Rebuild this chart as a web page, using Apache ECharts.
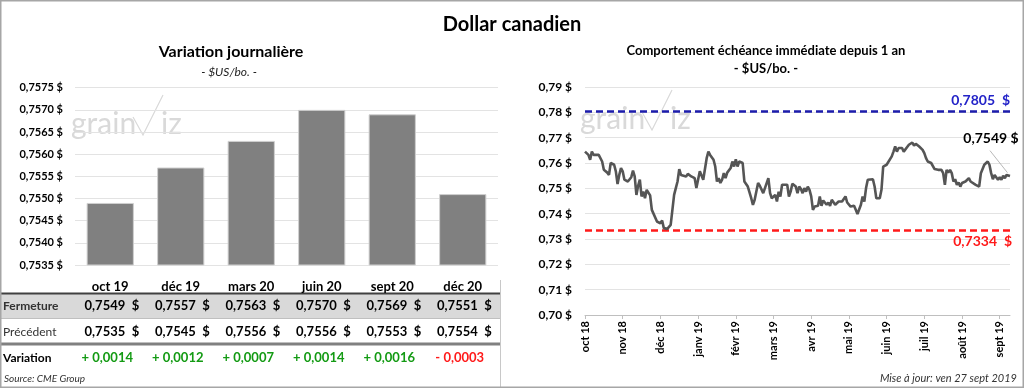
<!DOCTYPE html>
<html><head><meta charset="utf-8">
<script src="https://cdn.jsdelivr.net/npm/echarts/dist/echarts.min.js"></script>
<style>html,body{margin:0;padding:0;background:#fff}#c{width:1024px;height:388px}</style>
</head><body><div id="c"></div>
<script>
const FONT = 'Lato, "Open Sans", sans-serif';
const contracts = ['oct 19','déc 19','mars 20','juin 20','sept 20','déc 20'];
const fermeture = [0.7549,0.7557,0.7563,0.7570,0.7569,0.7551];
const precedent = [0.7535,0.7545,0.7556,0.7556,0.7553,0.7554];
const barAxisMin = 0.7535, barAxisMax = 0.7575, barAxisStep = 0.0005;
const monthLabels = ['oct 18','nov 18','déc 18','janv 19','févr 19','mars 19','avr 19','mai 19','juin 19','juil 19','août 19','sept 19'];
const daysPerLabel = 22;
const yearHigh = 0.7805, yearLow = 0.7334, lastClose = 0.7549;
const closeSeries = [
[0,0.7645],[2,0.7632],[3,0.7613],[4,0.7645],[5,0.7632],[6,0.7639],[8,0.7632],[9,0.7639],[10,0.7606],[11,0.7573],
[13,0.7562],[14,0.7553],[15,0.7600],[17,0.7593],[18,0.7567],[19,0.7517],[20,0.7553],[21,0.7580],[22,0.7567],[23,0.7534],
[24,0.7540],[25,0.7527],[27,0.7544],[28,0.7570],[29,0.7547],[30,0.7474],[31,0.7510],[32,0.7534],[33,0.7468],[34,0.7487],
[35,0.7461],[36,0.7494],[37,0.7487],[38,0.7472],[39,0.7415],[40,0.7419],[42,0.7369],[44,0.7362],[45,0.7373],[46,0.7343],
[47,0.7340],[48,0.7340],[50,0.7356],[51,0.7415],[52,0.7474],[53,0.7501],[54,0.7527],[55,0.7576],[56,0.7553],[57,0.7547],
[59,0.7547],[60,0.7557],[62,0.7547],[64,0.7540],[65,0.7501],[66,0.7494],[67,0.7567],[68,0.7560],[69,0.7534],[70,0.7540],
[71,0.7619],[72,0.7645],[73,0.7632],[75,0.7613],[76,0.7586],[77,0.7527],[78,0.7540],[79,0.7521],[80,0.7534],[81,0.7560],
[82,0.7540],[83,0.7562],[84,0.7567],[85,0.7580],[86,0.7606],[87,0.7586],[88,0.7615],[89,0.7586],[90,0.7606],[91,0.7613],
[92,0.7600],[93,0.7527],[94,0.7521],[95,0.7507],[97,0.7461],[98,0.7435],[99,0.7455],[100,0.7455],[101,0.7521],[102,0.7510],
[104,0.7481],[105,0.7501],[106,0.7501],[107,0.7540],[108,0.7481],[109,0.7461],[110,0.7461],[111,0.7474],[112,0.7448],[113,0.7487],
[114,0.7468],[115,0.7514],[116,0.7521],[118,0.7514],[119,0.7468],[120,0.7487],[121,0.7518],[122,0.7514],[123,0.7507],[124,0.7481],
[125,0.7507],[126,0.7497],[127,0.7481],[128,0.7501],[129,0.7487],[130,0.7507],[131,0.7494],[132,0.7468],[133,0.7415],[134,0.7428],
[135,0.7435],[136,0.7431],[137,0.7468],[138,0.7431],[139,0.7452],[140,0.7448],[141,0.7435],[142,0.7444],[143,0.7431],[144,0.7455],
[145,0.7448],[146,0.7435],[148,0.7448],[149,0.7441],[150,0.7448],[152,0.7468],[153,0.7444],[154,0.7448],[155,0.7428],[157,0.7431],
[158,0.7415],[159,0.7399],[160,0.7402],[161,0.7435],[162,0.7468],[163,0.7448],[164,0.7501],[165,0.7534],[166,0.7540],[168,0.7536],
[169,0.7507],[170,0.7461],[171,0.7461],[172,0.7461],[173,0.7494],[174,0.7586],[175,0.7580],[176,0.7593],[177,0.7596],[179,0.7626],
[180,0.7645],[181,0.7665],[182,0.7645],[183,0.7659],[184,0.7652],[185,0.7659],[186,0.7645],[187,0.7639],[188,0.7663],[189,0.7672],
[190,0.7676],[191,0.7681],[192,0.7668],[193,0.7676],[194,0.7672],[195,0.7665],[197,0.7652],[198,0.7639],[199,0.7619],[200,0.7606],
[201,0.7600],[202,0.7600],[203,0.7606],[204,0.7576],[205,0.7573],[206,0.7573],[207,0.7567],[208,0.7573],[209,0.7560],[210,0.7514],
[211,0.7573],[212,0.7562],[213,0.7573],[214,0.7560],[215,0.7527],[216,0.7536],[217,0.7514],[218,0.7523],[219,0.7507],[220,0.7521],
[221,0.7523],[222,0.7527],[223,0.7534],[224,0.7540],[225,0.7527],[226,0.7521],[228,0.7514],[229,0.7507],[230,0.7507],[231,0.7560],
[232,0.7567],[233,0.7593],[234,0.7600],[235,0.7606],[236,0.7593],[237,0.7560],[238,0.7536],[239,0.7553],[240,0.7560],[241,0.7534],
[242,0.7544],[243,0.7534],[244,0.7550],[245,0.7540],[246,0.7553],[247,0.7547],[248,0.7549]
];
const lastDay = 248;
const leaderFrom = [236.3, 0.7649];
const leaderTo = [246.5, 0.7562];

const fmt = (v, d) => v.toFixed(d).replace('.', ',');
const chart = echarts.init(document.getElementById('c'), null, {renderer: 'canvas'});

chart.setOption({
  animation: false,
  textStyle: {fontFamily: FONT},
  grid: [
    {left: 75, right: 526, top: 87.7, bottom: 123},
    {left: 585, right: 14, top: 87, bottom: 73}
  ],
  xAxis: [
    {type: 'category', gridIndex: 0, data: contracts,
     axisLine: {show: false}, axisTick: {show: false},
     axisLabel: {margin: 15, fontSize: 13, fontWeight: 'bold', color: '#000', fontFamily: FONT}},
    {type: 'value', gridIndex: 1, min: 0, max: lastDay, interval: daysPerLabel,
     splitLine: {show: false},
     axisLine: {show: true, lineStyle: {color: '#bfbfbf'}},
     axisTick: {show: true, length: 4, lineStyle: {color: '#bfbfbf'}},
     axisLabel: {rotate: 90, margin: 6, fontSize: 11, fontWeight: 'bold', color: '#000', fontFamily: FONT,
       showMaxLabel: false,
       formatter: v => { const i = Math.round(v / daysPerLabel); return (Math.abs(v - i*daysPerLabel) < 0.01 && i < monthLabels.length) ? monthLabels[i] : ''; }}}
  ],
  yAxis: [
    {type: 'value', gridIndex: 0, min: barAxisMin, max: barAxisMax, interval: barAxisStep,
     axisLine: {show: false}, axisTick: {show: false},
     splitLine: {lineStyle: {color: '#e3e3e3'}},
     axisLabel: {margin: 12, fontSize: 11, fontWeight: 'bold', color: '#000', fontFamily: FONT,
       formatter: v => fmt(v, 4) + ' $'}},
    {type: 'value', gridIndex: 1, min: 0.70, max: 0.79, interval: 0.01,
     axisLine: {show: false}, axisTick: {show: false},
     splitLine: {lineStyle: {color: '#e3e3e3'}},
     axisLabel: {margin: 13, fontSize: 12, fontWeight: 'bold', color: '#000', fontFamily: FONT,
       formatter: v => fmt(v, 2) + ' $'}}
  ],
  series: [
    {type: 'bar', xAxisIndex: 0, yAxisIndex: 0, data: fermeture, barCategoryGap: '33%',
     itemStyle: {color: '#808080', borderColor: '#d0d0d0', borderWidth: 1}},
    {type: 'line', xAxisIndex: 1, yAxisIndex: 1, data: closeSeries, showSymbol: false, symbol: 'none',
     lineStyle: {color: '#555555', width: 2.6}, z: 5,
     markLine: {silent: true, symbol: 'none', animation: false, precision: 4,
       data: [
         {yAxis: yearHigh, lineStyle: {color: '#1c1cac', width: 2.5, type: [7, 4]},
          label: {position: 'insideEndTop', distance: [0, 4], formatter: fmt(yearHigh, 4) + '  $', color: '#2323c8', fontSize: 14, fontWeight: 'bold', fontFamily: FONT}},
         {yAxis: yearLow, lineStyle: {color: '#ff1a1a', width: 2.5, type: [7, 4]},
          label: {position: 'insideEndBottom', distance: [-2, 4], formatter: fmt(yearLow, 4) + '  $', color: '#ff1a1a', fontSize: 14, fontWeight: 'bold', fontFamily: FONT}},
         [{coord: leaderFrom, lineStyle: {color: '#a6a6a6', width: 0.8, type: 'solid'}, label: {show: false}},
          {coord: leaderTo}]
       ]},
     markPoint: {silent: true, symbol: 'circle', symbolSize: 0,
       data: [{coord: [lastDay, lastClose],
         label: {show: true, formatter: fmt(lastClose, 4) + ' $', offset: [-19, -37], color: '#000', fontSize: 14, fontWeight: 'bold', fontFamily: FONT}}]}}
  ]
});

// table + titles
const g = [];
const txt = (x, y, text, o) => g.push({type: 'text', x, y, style: Object.assign({text, fill: '#000', font: '12px ' + FONT, textAlign: 'left', textVerticalAlign: 'middle'}, o || {})});
const line = (x1, y1, x2, y2, stroke, w) => g.push({type: 'line', shape: {x1, y1, x2, y2}, style: {stroke, lineWidth: w}});

g.push({type: 'rect', shape: {x: 0, y: 294, width: 500, height: 24}, style: {fill: '#d9d9d9'}, z: -1});
line(0, 293.5, 500, 293.5, '#404040', 2);
line(0, 318.5, 500, 318.5, '#bfbfbf', 1);
line(0, 344, 500, 344, '#808080', 3);
line(500.5, 280, 500.5, 388, '#c8c8c8', 1);

txt(512, 25, 'Dollar canadien', {font: 'bold 20px ' + FONT, textAlign: 'center'});
txt(231, 52, 'Variation journalière', {font: 'bold 16px ' + FONT, textAlign: 'center'});
txt(229, 72, '- $US/bo. -', {font: 'italic 12px ' + FONT, textAlign: 'center', fill: '#222'});
txt(766, 51, 'Comportement échéance immédiate depuis 1 an', {font: 'bold 13px ' + FONT, textAlign: 'center'});
txt(766, 69, '- $US/bo. -', {font: 'bold 13px ' + FONT, textAlign: 'center'});

txt(3, 306, 'Fermeture', {font: 'bold 12px ' + FONT, fill: '#333'});
txt(3, 332, 'Précédent', {font: '12px ' + FONT, fill: '#333'});
txt(3, 358, 'Variation', {font: 'bold 12px ' + FONT, fill: '#000'});
txt(4, 379, 'Source: CME Group', {font: 'italic 10px ' + FONT, fill: '#333'});
txt(1017, 378, 'Mise à jour: ven 27 sept 2019', {font: 'italic 11px ' + FONT, fill: '#333', textAlign: 'right'});

contracts.forEach((c, i) => {
  const cx = chart.convertToPixel({xAxisIndex: 0}, i);
  txt(cx + 15, 306, fmt(fermeture[i], 4), {font: 'bold 13px ' + FONT, textAlign: 'right'});
  txt(cx + 29, 306, '$', {font: 'bold 13px ' + FONT, textAlign: 'right'});
  txt(cx + 15, 332, fmt(precedent[i], 4), {font: 'bold 13px ' + FONT, textAlign: 'right'});
  txt(cx + 29, 332, '$', {font: 'bold 13px ' + FONT, textAlign: 'right'});
  const d = Math.round((fermeture[i] - precedent[i]) * 10000) / 10000;
  const s = (d >= 0 ? '+ ' : '- ') + fmt(Math.abs(d), 4);
  txt(cx - 3, 358, s, {font: 'bold 13px ' + FONT, textAlign: 'center', fill: d >= 0 ? '#139a13' : '#ff1a1a'});
});

// watermarks
function mark(x, y) {
  g.push({type: 'text', x, y, style: {text: 'grain', font: '30px ' + FONT, fill: '#d9d9d9', textVerticalAlign: 'bottom'}, z: -1});
  g.push({type: 'polyline', shape: {points: [[x + 62, y - 22], [x + 72, y - 4], [x + 92, y - 44]]}, style: {stroke: '#d9d9d9', lineWidth: 1.2, fill: 'none'}, z: -1});
  g.push({type: 'text', x: x + 90, y, style: {text: 'iz', font: '30px ' + FONT, fill: '#d9d9d9', textVerticalAlign: 'bottom'}, z: -1});
}
mark(71, 139);
mark(580, 134);

g.push({type: 'rect', shape: {x: 0.75, y: 0.75, width: 1022.5, height: 386.5}, style: {fill: 'none', stroke: '#a6a6a6', lineWidth: 1.5}, z: 100});

chart.setOption({graphic: g});
</script></body></html>
